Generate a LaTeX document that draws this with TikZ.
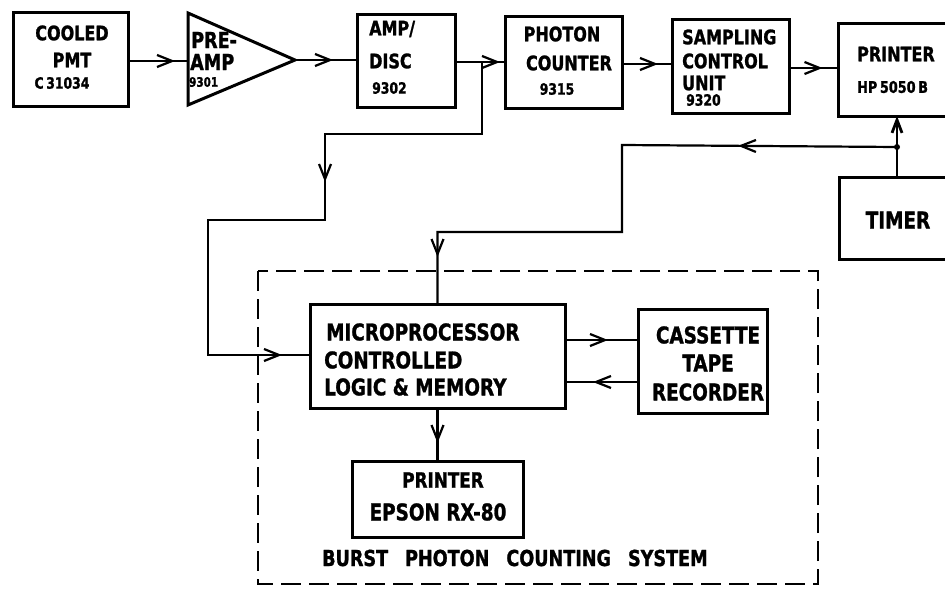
\documentclass[tikz,border=0pt]{standalone}
\usepackage{fontspec}
\setmainfont{DejaVu Sans}[FakeStretch=0.8, BoldFeatures={FakeBold=1.2,FakeStretch=0.8}]
\usetikzlibrary{arrows.meta,decorations.markings,calc}
\tikzset{
  box/.style={draw, line width=3pt, inner sep=0pt, outer sep=0pt},
  conn/.style={line width=2.2pt, line join=miter},
  lbl/.style={font=\bfseries\fontsize{20}{22}\selectfont, inner sep=0pt},
  big/.style={font=\bfseries\fontsize{23}{25}\selectfont, inner sep=0pt},
  num/.style={font=\bfseries\fontsize{15.5}{17}\selectfont, inner sep=0pt},
  small/.style={font=\bfseries\fontsize{13}{15}\selectfont, inner sep=0pt},
  barb/.tip={Straight Barb[length=15pt,width=12pt]},
  arrowat/.style={postaction={decorate}, decoration={markings, mark=at position #1 with {\arrow{barb}}}},
  twoarrows/.style 2 args={postaction={decorate}, decoration={markings,
      mark=at position #1 with {\arrow{barb}}, mark=at position #2 with {\arrow{barb}}}},
}
\begin{document}
\begin{tikzpicture}[x=1pt,y=-1pt]
\useasboundingbox (0,0) rectangle (945,589);
\clip (0,0) rectangle (945,589);

% ---- top row boxes
\node[box, minimum width=115pt, minimum height=94pt] (pmt) at (70.5,59) {};
\coordinate (preL) at (188,61);
\coordinate (preR) at (295,60);
\draw[line width=3pt, line join=miter] (188,13) -- (preR) -- (188,105) -- cycle;
\node[box, minimum width=98pt, minimum height=93pt] (amp) at (406,60.5) {};
\node[box, minimum width=117pt, minimum height=92pt] (phot) at (563.5,62) {};
\node[box, minimum width=117pt, minimum height=94pt] (samp) at (730.5,66) {};
\node[box, minimum width=117pt, minimum height=93pt] (prn) at (897,69.5) {};
\node[box, minimum width=116pt, minimum height=82pt] (timer) at (897,218) {};

% ---- lower boxes
\node[box, minimum width=255pt, minimum height=104pt] (micro) at (437.5,356) {};
\node[box, minimum width=129pt, minimum height=104pt] (cass) at (702.5,361) {};
\node[box, minimum width=171pt, minimum height=76pt] (epson) at (437.5,499) {};
\draw[line width=2.2pt, dash pattern=on 20pt off 8pt] (258,271) rectangle (818,584);

% ---- texts
\node[lbl] (t1) at (72,33) {COOLED};
\node[lbl] (t2) at (72,60) {PMT};
\node[num] (t3) at (62,83) {C\,31034};
\node[lbl, anchor=west, font=\bfseries\fontsize{22}{24}\selectfont] (t4) at (191,40) {PRE-};
\node[lbl, anchor=west, font=\bfseries\fontsize{22}{24}\selectfont] (t5) at (190,62) {AMP};
\node[small, anchor=west] (t6) at (189,82) {9301};
\node[lbl, anchor=west] (t7) at (369,29) {AMP/};
\node[lbl, anchor=west] (t8) at (369,61) {DISC};
\node[num, anchor=west] (t9) at (372,88) {9302};
\node[lbl] (t10) at (562,34) {PHOTON};
\node[lbl] (t11) at (569,63) {COUNTER};
\node[num] (t12) at (557,89) {9315};
\node[lbl, anchor=west] (t13) at (682,37) {SAMPLING};
\node[lbl, anchor=west] (t14) at (682,61) {CONTROL};
\node[lbl, anchor=west] (t15) at (682,83) {UNIT};
\node[num, anchor=west] (t16) at (686,100) {9320};
\node[lbl, anchor=west] (t17) at (857,54) {PRINTER};
\node[num, anchor=west, font=\bfseries\fontsize{16}{18}\selectfont] (t18) at (857,87) {HP\,5050\,B};
\node[big] (t19) at (898,220) {TIMER};
\node[big, anchor=west] (t20) at (326,332) {MICROPROCESSOR};
\node[big, anchor=west] (t21) at (324,360) {CONTROLLED};
\node[big, anchor=west] (t22) at (324,387) {LOGIC \& MEMORY};
\node[big] (t23) at (708,335) {CASSETTE};
\node[big] (t24) at (708,363) {TAPE};
\node[big] (t25) at (708,392) {RECORDER};
\node[lbl, font=\bfseries\fontsize{21}{23}\selectfont] (t26) at (443,480) {PRINTER};
\node[big] (t27) at (438,512) {EPSON RX-80};
\node[lbl, anchor=west, font=\bfseries\fontsize{22}{24}\selectfont] (t28) at (322,558) {BURST\hspace{17pt}PHOTON\hspace{17pt}COUNTING\hspace{17pt}SYSTEM};

% ---- connectors
\coordinate (j1) at (482,62);
\draw[conn, arrowat=-13pt] (pmt.east |- preL) -- (preL);
\draw[conn, arrowat=-24pt] (preR) -- (amp.west |- preR);
\draw[conn, arrowat=-5pt] (amp.east |- j1) -- (phot.west |- j1);
\draw[conn, arrowat=-14pt] (phot.east |- 0,64) -- (samp.west |- 0,64);
\draw[conn, arrowat=-16pt] (samp.east |- 0,68) -- (prn.west |- 0,68);
\draw[conn, twoarrows={277pt}{-28pt}] (j1) -- (482,134) -- (325,134) -- (325,220)
   -- (208,220) -- (208,355) -- (micro.west |- 0,355);
\coordinate (dot) at (897,147);
\draw[conn, -{Straight Barb[length=13pt,width=10pt,line width=2.8pt]}] (timer.north) -- (prn.south);
\fill (dot) circle (3pt);
\draw[conn, twoarrows={159pt}{-47pt}] (dot) -- (622,145) -- (622,232) -- (437.5,232) -- (micro.north);
\draw[conn, arrowat=-30pt] (micro.east |- 0,340) -- (cass.west |- 0,340);
\draw[conn, arrowat=-28pt] (cass.west |- 0,382) -- (micro.east |- 0,382);
\draw[conn, arrowat=-18pt] (micro.south) -- (epson.north);
\end{tikzpicture}
\end{document}
